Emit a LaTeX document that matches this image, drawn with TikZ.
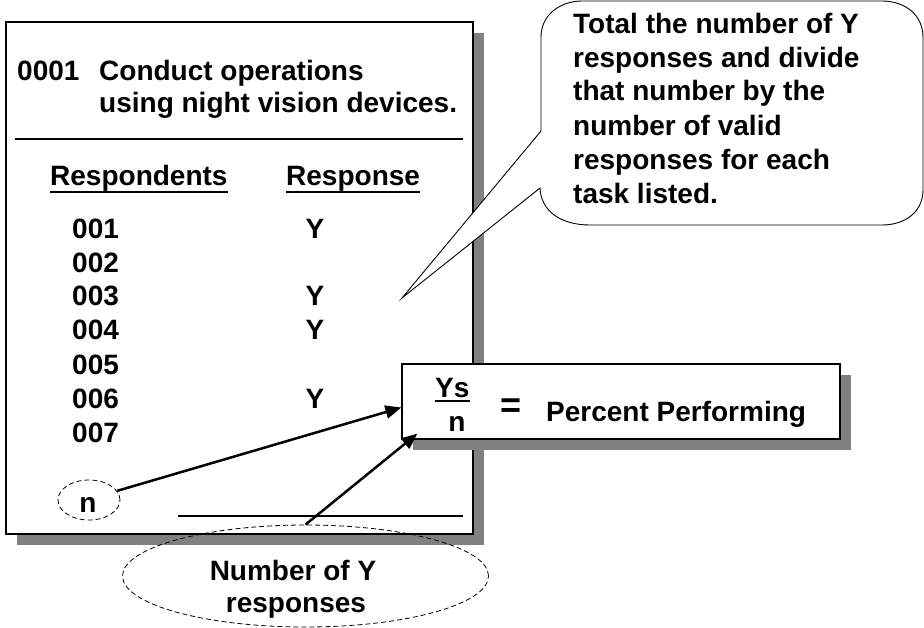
\documentclass[tikz,border=0pt]{standalone}
\usepackage{fontspec}
\setmainfont{Liberation Sans}
\usetikzlibrary{shapes.geometric,arrows.meta,shadows}
\definecolor{shadowgray}{RGB}{128,128,128}
\begin{document}
\begin{tikzpicture}[x=1pt,y=-1pt,
  txt/.style={inner sep=0pt, anchor=base west, font=\fontsize{28}{34}\selectfont\bfseries},
  ctxt/.style={txt, anchor=base},
  panel/.style={rectangle, draw=black, line width=1.2pt, fill=white, inner sep=0pt,
    drop shadow={shadow xshift=11pt, shadow yshift=-11pt, fill=shadowgray, opacity=1}},
  dashring/.style={ellipse, draw=black, line width=0.8pt, dash pattern=on 5pt off 3pt, inner sep=0pt},
  pointer/.style={line width=2.5pt, -{Triangle[length=16pt,width=13pt]}},
  rulestroke/.style={line width=2.5pt},
  thinrule/.style={line width=1.2pt}]
\useasboundingbox (0,0) rectangle (924,627);
\fill[white] (0,0) rectangle (924,627);

% task card
\node[panel, minimum width=467pt, minimum height=512pt] (card) at (239.5,278) {};
\node[txt] (code) at (17,80) {0001};
\node[txt] (task1) at (99,80) {Conduct operations};
\node[txt] (task2) at (99,112) {using night vision devices.};
\draw[thinrule] (15,139) -- (463,139);

\node[txt] (hresp) at (50,185) {Respondents};
\node[txt] (hans) at (286,185) {Response};
\draw[line width=2pt] ([yshift=-7pt]hresp.base west) -- ([yshift=-7pt]hresp.base east);
\draw[line width=2pt] ([yshift=-7pt]hans.base west) -- ([yshift=-7pt]hans.base east);

\node[txt] (r1) at (72,238) {001};
\node[txt] (r2) at (72,272) {002};
\node[txt] (r3) at (72,305) {003};
\node[txt] (r4) at (72,339) {004};
\node[txt] (r5) at (72,374) {005};
\node[txt] (r6) at (72,408) {006};
\node[txt] (r7) at (72,442) {007};
\node[ctxt] (y1) at (315,238) {Y};
\node[ctxt] (y3) at (315,305) {Y};
\node[ctxt] (y4) at (315,339) {Y};
\node[ctxt] (y6) at (315,408) {Y};

\node[dashring, minimum width=62pt, minimum height=40pt] (nring) at (89,500) {};
\node[ctxt] (nsym) at (88,512) {n};
\draw[rulestroke] (178,516) -- (463,516);

% callout balloon
\draw[fill=white, line width=0.9pt]
  (402,298) coordinate (tip) -- (541,131) -- (541,37)
  .. controls (541,15) and (560,1) .. (582,1) -- (882,1)
  .. controls (905,1) and (923,15) .. (923,37) -- (923,190)
  .. controls (923,212) and (905,225) .. (882,225) -- (590,225)
  .. controls (562,225) and (541,212) .. (540,188) -- cycle;
\node[txt] (c1) at (573,33) {Total the number of Y};
\node[txt] (c2) at (573,67) {responses and divide};
\node[txt] (c3) at (573,100) {that number by the};
\node[txt] (c4) at (573,135) {number of valid};
\node[txt] (c5) at (573,169) {responses for each};
\node[txt] (c6) at (573,203) {task listed.};

% formula box
\node[panel, minimum width=438pt, minimum height=75pt] (formula) at (621,401.5) {};
\node[txt] (ys) at (435,397) {Ys};
\draw[line width=2pt] ([yshift=-4pt]ys.base west) -- ([yshift=-4pt]ys.base east);
\node[ctxt] (nden) at (457,431) {n};
\node[inner sep=0pt, font=\fontsize{36}{36}\selectfont\bfseries] (eq) at (511,408) {=};
\node[txt] (pp) at (546,421) {Percent Performing};

% counted responses
\node[dashring, minimum width=366pt, minimum height=102pt] (numring) at (305.5,576) {};
\node[ctxt] (nl1) at (293,580) {Number of Y};
\node[ctxt] (nl2) at (296,612) {responses};

% pointers into the formula
\draw[pointer] (nring.18) -- ([yshift=-6pt]formula.west);
\draw[pointer] (numring.north) -- ([xshift=16pt,yshift=6pt]formula.south west);
\end{tikzpicture}
\end{document}
